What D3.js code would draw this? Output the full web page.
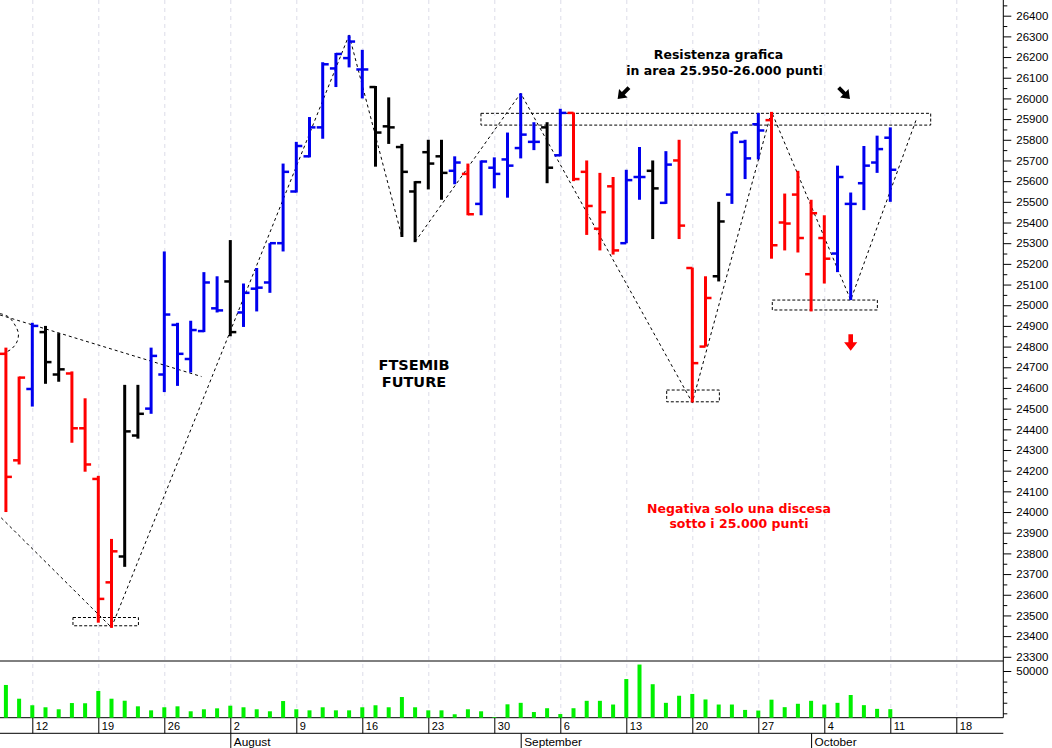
<!DOCTYPE html>
<html><head><meta charset="utf-8">
<script src="https://cdn.jsdelivr.net/npm/d3@7"></script>
<style>html,body{margin:0;padding:0;background:#fff;}svg{display:block;}</style>
</head><body>
<svg id="c" width="1052" height="748"></svg>
<script>
// ---------- DATA ----------
const dates = [
 "07-08","07-09","07-12","07-13","07-14","07-15","07-16","07-19","07-20","07-21","07-22","07-23","07-26","07-27","07-28","07-29","07-30",
 "08-02","08-03","08-04","08-05","08-06","08-09","08-10","08-11","08-12","08-13","08-16","08-17","08-18","08-19","08-20","08-23","08-24","08-25","08-26","08-27","08-30","08-31",
 "09-01","09-02","09-03","09-06","09-07","09-08","09-09","09-10","09-13","09-14","09-15","09-16","09-17","09-20","09-21","09-22","09-23","09-24","09-27","09-28","09-29","09-30",
 "10-01","10-04","10-05","10-06","10-07","10-08","10-11"];
const futureDates = ["10-12","10-13","10-14","10-15","10-18","10-19","10-20","10-21"];

const opens = [24765,24250,24595,24870,24665,24670,24405,24160,23660,23785,24370,24500,24665,24905,24740,24875,24985,
 25115,24965,25080,25110,25300,25550,25720,25860,26145,26195,26140,26055,25865,25765,25550,25740,25720,25650,25635,25490,25665,25705,
 25760,25790,25860,25725,25930,25645,25370,25575,25300,25620,25650,25495,25700,25180,24800,25140,25535,25790,25875,25895,25400,25535,
 25150,25325,25250,25490,25590,25690,25810];
const highs = [24795,24655,24915,24900,24865,24680,24550,24175,23870,24615,24615,24795,25260,24915,24925,25160,25140,
 25315,25105,25180,25300,25685,25790,25910,26175,26220,26305,26235,26060,26005,25780,25600,25800,25800,25720,25685,25700,25715,25835,
 26025,25885,25885,25950,25932,25700,25640,25620,25655,25765,25700,25745,25800,25182,25140,25500,25835,25800,25930,25935,25540,25650,
 25510,25435,25675,25545,25770,25820,25860];
const lows = [24000,24230,24510,24620,24630,24335,24195,23465,23440,23735,24355,24475,24580,24610,24675,24870,24965,
 24850,24895,24970,25060,25260,25545,25715,25805,26055,26150,26000,25670,25780,25330,25305,25560,25510,25585,25435,25435,25565,25520,
 25710,25750,25590,25720,25600,25340,25265,25245,25300,25510,25320,25490,25320,24530,24800,25115,25490,25610,25705,25225,25265,25255,
 24970,25105,25160,25025,25460,25640,25500];
const closes = [24170,24650,24900,24725,24690,24405,24230,23580,23810,24390,24475,24755,24955,24765,24880,25110,24975,
 24870,25060,25085,25300,25645,25770,25860,26165,26215,26275,26140,25835,25860,25645,25595,25685,25640,25690,25440,25695,25635,25675,
 25825,25790,25665,25930,25610,25480,25450,25265,25605,25620,25565,25680,25385,24720,25035,25405,25835,25710,25845,25290,25395,25325,
 25445,25225,25620,25490,25675,25755,25655];
const barColors = ["r","r","b","k","k","r","r","r","r","k","k","b","b","b","b","b","b",
 "k","b","b","b","b","b","b","b","b","b","b","k","k","k","k","k","k","b","r","b","b","b",
 "b","b","k","b","r","r","r","r","b","b","k","b","r","r","r","k","b","b","b","r","r","r",
 "r","r","b","b","b","b","b"];
const volumes = [36800,23800,17600,15700,13800,19700,19500,31100,23800,21900,16600,12800,15700,16600,11900,13800,14700,
 17200,15700,13800,11900,21600,13800,12800,15700,12800,12800,15700,17600,15700,25400,15700,12800,12800,9100,13800,11900,6500,18500,
 19900,11200,14800,9300,14800,21800,21800,18300,42400,56100,37500,19900,26600,28300,23100,18300,18300,13200,12600,22900,15800,19000,
 21800,18300,19900,27300,17700,14200,13900];

const weekTicks = ["07-12","07-19","07-26","08-02","08-09","08-16","08-23","08-30","09-06","09-13","09-20","09-27","10-04","10-11","10-18"];
const weekLabels = ["12","19","26","2","9","16","23","30","6","13","20","27","4","11","18"];
const monthStarts = ["08-02","09-01","10-01"];
const monthLabels = ["August","September","October"];
const priceMajor = d3.range(23300, 26401, 100);
const priceMinor = d3.range(23350, 26451, 100);
const volMajor = [50000];
const volMinor = [10000, 20000, 30000, 40000];

// annotations in [day index, price]
const leftLegIn = [[-1, 24013], [8, 23442]];
const upTrend = [[8, 23442], [26, 26307]];
const downLeg1 = [[26, 26307], [30, 25331]];
const zigzag = [[31, 25307], [39, 26025], [52, 24529], [58, 25936], [64, 25025], [69.0, 25904]];
const descLine = [[-0.45, 24953], [14.82, 24655]];
const curveLeft = [[-0.45, 24960], [0.19, 24944], [0.70, 24903], [0.95, 24862], [0.83, 24822], [0.45, 24790], [0.06, 24774], [-0.45, 24754]];
const boxes = [[5.08, 10.04, 23490, 23450], [50.06, 54.05, 24590, 24533], [58.06, 66.02, 25025, 24977], [35.99, 70.06, 25928, 25871]];

// ---------- LAYOUT ----------
const RIGHT = 1003.3, PRICE_BOTTOM = 661, VOL_BOTTOM = 717.7, AXIS2 = 733.3;
const X0 = 5.9, STEP = 13.2;
const allDates = dates.concat(futureDates);
const xd = d3.scalePoint().domain(allDates).range([X0, X0 + STEP * (allDates.length - 1)]);
const xi = d3.scaleLinear().domain([0, allDates.length - 1]).range([X0, X0 + STEP * (allDates.length - 1)]);
const y = d3.scaleLinear().domain([23300, 26400]).range([656.8, 15.7]);
const yv = d3.scaleLinear().domain([5840, 50000]).range([VOL_BOTTOM, 671]);
const colorMap = {r: "#ff0000", b: "#0000ee", k: "#000000"};
const LBL = "'Liberation Sans', Arial, sans-serif";
const ANN = "'DejaVu Sans', Verdana, sans-serif";

const svg = d3.select("#c");
svg.append("defs").append("clipPath").attr("id", "pc")
  .append("rect").attr("x", 0).attr("y", 0).attr("width", RIGHT).attr("height", PRICE_BOTTOM);

// gridlines
svg.append("g").selectAll("line").data(weekTicks).join("line")
  .attr("x1", d => xd(d) + 0.5).attr("x2", d => xd(d) + 0.5)
  .attr("y1", 0).attr("y2", VOL_BOTTOM)
  .attr("stroke", "#dcdce8").attr("stroke-width", 1).attr("stroke-dasharray", "4,4");

// frame lines
const frame = svg.append("g").attr("stroke", "#000").attr("stroke-width", 1);
frame.append("line").attr("x1", 0).attr("x2", RIGHT).attr("y1", PRICE_BOTTOM).attr("y2", PRICE_BOTTOM);
frame.append("line").attr("x1", 0).attr("x2", RIGHT).attr("y1", VOL_BOTTOM).attr("y2", VOL_BOTTOM);
frame.append("line").attr("x1", 0).attr("x2", RIGHT).attr("y1", AXIS2).attr("y2", AXIS2);
frame.append("line").attr("x1", RIGHT).attr("x2", RIGHT).attr("y1", 0).attr("y2", VOL_BOTTOM);

// y axes
function styleAxis(g) {
  g.select(".domain").remove();
  g.attr("font-family", LBL).attr("font-size", 11.5);
  g.selectAll("line").attr("stroke", "#000");
  g.selectAll("text").attr("fill", "#000");
}
svg.append("g").attr("transform", `translate(${RIGHT},0)`)
  .call(d3.axisRight(y).tickValues(priceMajor).tickSize(8).tickPadding(5).tickFormat(d3.format("d"))).call(styleAxis);
svg.append("g").attr("transform", `translate(${RIGHT},0)`)
  .call(d3.axisRight(y).tickValues(priceMinor).tickSize(4).tickFormat("")).call(styleAxis);
svg.append("g").attr("transform", `translate(${RIGHT},0)`)
  .call(d3.axisRight(yv).tickValues(volMajor).tickSize(8).tickPadding(5).tickFormat(d3.format("d"))).call(styleAxis);
svg.append("g").attr("transform", `translate(${RIGHT},0)`)
  .call(d3.axisRight(yv).tickValues(volMinor).tickSize(4).tickFormat("")).call(styleAxis);

// x axes
const xa = svg.append("g").attr("transform", `translate(0,${VOL_BOTTOM})`)
  .call(d3.axisBottom(xd).tickValues(weekTicks).tickSize(AXIS2 - VOL_BOTTOM).tickFormat((d, i) => weekLabels[i]));
xa.select(".domain").remove();
xa.attr("font-family", LBL).attr("font-size", 11);
xa.selectAll("line").attr("stroke", "#000");
xa.selectAll("text").attr("text-anchor", "start").attr("x", 3).attr("y", 5).attr("dy", "0.71em").attr("fill", "#000");

const ma = svg.append("g").attr("transform", `translate(0,${AXIS2})`)
  .call(d3.axisBottom(xd).tickValues(monthStarts).tickSize(748 - AXIS2).tickFormat((d, i) => monthLabels[i]));
ma.select(".domain").remove();
ma.attr("font-family", LBL).attr("font-size", 11.8);
ma.selectAll("line").attr("stroke", "#000");
ma.selectAll("text").attr("text-anchor", "start").attr("x", 3).attr("y", 4).attr("dy", "0.71em").attr("fill", "#000");

// volume bars
svg.append("g").selectAll("rect").data(dates).join("rect")
  .attr("x", d => xd(d) - 2).attr("width", 4)
  .attr("y", (d, i) => yv(volumes[i]))
  .attr("height", (d, i) => VOL_BOTTOM - yv(volumes[i]))
  .attr("fill", "#00f000");

// annotation shapes (clipped)
const ann = svg.append("g").attr("clip-path", "url(#pc)")
  .attr("fill", "none").attr("stroke", "#000").attr("stroke-width", 1).attr("stroke-dasharray", "3,3");
const line = d3.line().x(p => xi(p[0])).y(p => y(p[1]));
[leftLegIn, upTrend, downLeg1, zigzag, descLine].forEach(pts => ann.append("path").attr("d", line(pts)));
ann.append("path").attr("d", d3.line().x(p => xi(p[0])).y(p => y(p[1])).curve(d3.curveCatmullRom)(curveLeft));
ann.selectAll("rect.box").data(boxes).join("rect").attr("class", "box")
  .attr("x", b => xi(b[0])).attr("width", b => xi(b[1]) - xi(b[0]))
  .attr("y", b => y(b[2])).attr("height", b => y(b[3]) - y(b[2]))
  .attr("stroke-dasharray", "3,2");

// OHLC bars
const bars = svg.append("g").selectAll("g").data(dates).join("g")
  .attr("stroke", (d, i) => colorMap[barColors[i]]);
bars.append("line").attr("stroke-width", 3)
  .attr("x1", d => xd(d)).attr("x2", d => xd(d))
  .attr("y1", (d, i) => y(highs[i])).attr("y2", (d, i) => y(lows[i]));
bars.append("line").attr("stroke-width", 2.5)
  .attr("x1", d => xd(d) - 6).attr("x2", d => xd(d))
  .attr("y1", (d, i) => y(opens[i])).attr("y2", (d, i) => y(opens[i]));
bars.append("line").attr("stroke-width", 2.5)
  .attr("x1", d => xd(d)).attr("x2", d => xd(d) + 6)
  .attr("y1", (d, i) => y(closes[i])).attr("y2", (d, i) => y(closes[i]));

// texts
function txt(x, yy, s, size, color) {
  svg.append("text").attr("x", x).attr("y", yy).attr("text-anchor", "middle")
    .attr("font-family", ANN).attr("font-weight", "bold").attr("font-size", size)
    .attr("fill", color).text(s);
}
txt(718.5, 59, "Resistenza grafica", 12.5, "#000");
txt(724.5, 75, "in area 25.950-26.000 punti", 12.5, "#000");
txt(414, 370, "FTSEMIB", 14.5, "#000");
txt(414, 387, "FUTURE", 14.5, "#000");
txt(739, 512.5, "Negativa solo una discesa", 12.5, "#ff0000");
txt(739, 528, "sotto i 25.000 punti", 12.5, "#ff0000");

// arrows
const arrowPath = "M-2.3,-8 L2.3,-8 L2.3,0 L6.6,0 L0,8.5 L-6.6,0 L-2.3,0 Z";
svg.append("path").attr("d", arrowPath).attr("fill", "#ff0000")
  .attr("transform", `translate(${xi(64)}, ${342.3})`);
svg.append("path").attr("d", "M-2,-8 L2,-8 L2,0 L6,0 L0,8 L-6,0 L-2,0 Z").attr("fill", "#000")
  .attr("transform", `translate(623.3,93.3) rotate(45)`);
svg.append("path").attr("d", "M-2,-8 L2,-8 L2,0 L6,0 L0,8 L-6,0 L-2,0 Z").attr("fill", "#000")
  .attr("transform", `translate(844.3,93.3) rotate(-45)`);
</script>
</body></html>
